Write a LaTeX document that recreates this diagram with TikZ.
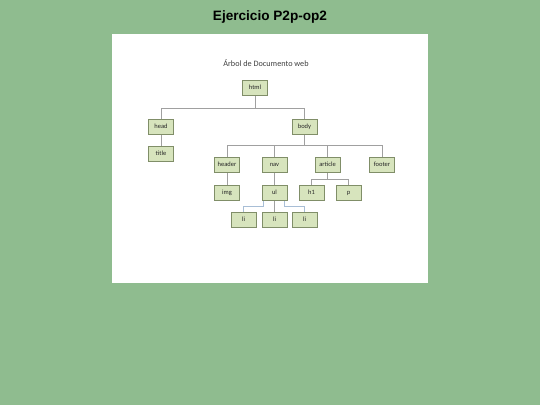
\documentclass[tikz,border=0pt]{standalone}
\usepackage{fontspec}
\setmainfont{Liberation Sans}
\newfontfamily\boxfont{Carlito}
\definecolor{fondo}{RGB}{143,188,143}
\definecolor{caja}{RGB}{215,228,189}
\definecolor{borde}{RGB}{128,142,104}
\definecolor{linea}{RGB}{160,160,160}
\definecolor{lineali}{RGB}{168,190,214}
\tikzset{
	etiq/.style={draw=borde,fill=caja,line width=1pt,minimum width=25pt,minimum height=15pt,inner sep=0pt,text height=4.6pt,text depth=1.3pt,font=\boxfont\fontsize{6.5}{7}\selectfont,text=black!85},
	rama/.style={draw=linea,line width=1pt},
	ramali/.style={draw=lineali,line width=0.9pt}
}
\begin{document}
\begin{tikzpicture}[x=1pt,y=-1pt]
		\fill [fondo] (0,0) rectangle (540,405);
		\fill [white] (112,34) rectangle (428,283);
		\node (titulo) at (270,17) {\fontsize{13.6}{16}\selectfont\bfseries Ejercicio P2p-op2};
		\node (arbol) at (266,63) {\boxfont\fontsize{8.2}{10}\selectfont\color{black!75}Árbol de Documento web};
		% nodos
		\node [etiq] (html) at (255,88) {html};
		\node [etiq] (head) at (161,127) {head};
		\node [etiq] (body) at (304.5,127) {body};
		\node [etiq] (title) at (161,153.5) {title};
		\node [etiq] (header) at (227,165) {header};
		\node [etiq] (nav) at (274.5,165) {nav};
		\node [etiq] (article) at (327.5,165) {article};
		\node [etiq] (footer) at (382,165) {footer};
		\node [etiq] (img) at (227,193) {img};
		\node [etiq] (ul) at (274.5,193) {ul};
		\node [etiq] (h1) at (311.5,193) {h1};
		\node [etiq] (p) at (348.5,193) {p};
		\node [etiq] (li1) at (243.5,220) {li};
		\node [etiq] (li2) at (274.5,220) {li};
		\node [etiq] (li3) at (304.5,220) {li};
		% conectores
		\draw [rama] (html.south) -- ++(0,12) -| (head.north);
		\draw [rama] (html.south) -- ++(0,12) -| (body.north);
		\draw [rama] (head) -- (title);
		\foreach \n in {header,nav,article,footer}
			\draw [rama] (body.south) -- ++(0,10.5) -| (\n.north);
		\draw [rama] (header) -- (img);
		\draw [rama] (nav) -- (ul);
		\draw [rama] (article.south) -- ++(0,6.5) -| (h1.north);
		\draw [rama] (article.south) -- ++(0,6.5) -| (p.north);
		\draw [ramali] ([xshift=2pt]ul.south west) -- ++(0,5.5) -| (li1.north);
		\draw [rama] (ul) -- (li2);
		\draw [ramali] ([xshift=-3pt]ul.south east) -- ++(0,5.5) -| (li3.north);
\end{tikzpicture}
\end{document}
